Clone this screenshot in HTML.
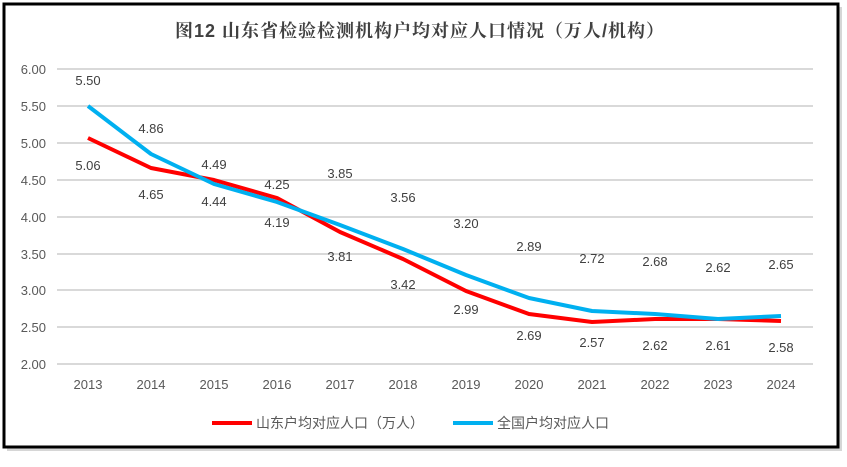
<!DOCTYPE html><html><head><meta charset="utf-8"><style>
body{margin:0;background:#fff;width:847px;height:462px;overflow:hidden}
</style></head><body>
<svg width="847" height="462" xmlns="http://www.w3.org/2000/svg" font-family="Liberation Sans, Noto Sans CJK SC, sans-serif">
<rect x="7" y="7" width="835" height="444" fill="#bbb" opacity="0.6"/>
<rect x="4" y="4" width="834" height="443" fill="#fff" stroke="#000" stroke-width="3"/>
<text x="420" y="37" text-anchor="middle" font-size="18" font-weight="bold" fill="#404040" letter-spacing="1" font-family="Liberation Sans, Noto Serif CJK SC, serif">图12  山东省检验检测机构户均对应人口情况（万人/机构）</text>
<g stroke="#d9d9d9" stroke-width="2">
<line x1="57" x2="813" y1="69" y2="69"/><line x1="57" x2="813" y1="106" y2="106"/><line x1="57" x2="813" y1="143" y2="143"/><line x1="57" x2="813" y1="180" y2="180"/><line x1="57" x2="813" y1="217" y2="217"/><line x1="57" x2="813" y1="254" y2="254"/><line x1="57" x2="813" y1="290" y2="290"/><line x1="57" x2="813" y1="327" y2="327"/><line x1="57" x2="813" y1="364" y2="364"/>
</g>
<g font-size="13" fill="#595959" text-anchor="end">
<text x="46" y="74">6.00</text><text x="46" y="111">5.50</text><text x="46" y="148">5.00</text><text x="46" y="185">4.50</text><text x="46" y="222">4.00</text><text x="46" y="259">3.50</text><text x="46" y="295">3.00</text><text x="46" y="332">2.50</text><text x="46" y="369">2.00</text>
</g>
<g font-size="13" fill="#595959" text-anchor="middle">
<text x="88" y="389">2013</text><text x="151" y="389">2014</text><text x="214" y="389">2015</text><text x="277" y="389">2016</text><text x="340" y="389">2017</text><text x="403" y="389">2018</text><text x="466" y="389">2019</text><text x="529" y="389">2020</text><text x="592" y="389">2021</text><text x="655" y="389">2022</text><text x="718" y="389">2023</text><text x="781" y="389">2024</text>
</g>
<polyline fill="none" stroke="#ff0000" stroke-width="4" stroke-linejoin="round" points="88,138 151,168 214,180 277,198 340,232 403,259 466,291 529,314 592,322 655,319 718,319 781,321"/>
<polyline fill="none" stroke="#00b0f0" stroke-width="4" stroke-linejoin="round" points="88,106 151,154 214,184 277,202 340,225 403,249 466,275 529,298 592,311 655,314 718,319 781,316"/>
<g font-size="13" fill="#404040" text-anchor="middle">
<text x="88" y="85">5.50</text><text x="151" y="133">4.86</text><text x="214" y="206">4.44</text><text x="277" y="227">4.19</text><text x="340" y="178">3.85</text><text x="403" y="202">3.56</text><text x="466" y="228">3.20</text><text x="529" y="251">2.89</text><text x="592" y="263">2.72</text><text x="655" y="266">2.68</text><text x="718" y="272">2.62</text><text x="781" y="269">2.65</text>
<text x="88" y="170">5.06</text><text x="151" y="199">4.65</text><text x="214" y="169">4.49</text><text x="277" y="189">4.25</text><text x="340" y="261">3.81</text><text x="403" y="289">3.42</text><text x="466" y="314">2.99</text><text x="529" y="340">2.69</text><text x="592" y="347">2.57</text><text x="655" y="350">2.62</text><text x="718" y="350">2.61</text><text x="781" y="352">2.58</text>
</g>
<line x1="212" x2="252" y1="423" y2="423" stroke="#ff0000" stroke-width="4"/>
<text x="256" y="428" font-size="14" fill="#595959">山东户均对应人口（万人）</text>
<line x1="453" x2="493" y1="423" y2="423" stroke="#00b0f0" stroke-width="4"/>
<text x="497" y="428" font-size="14" fill="#595959">全国户均对应人口</text>
</svg>
</body></html>
